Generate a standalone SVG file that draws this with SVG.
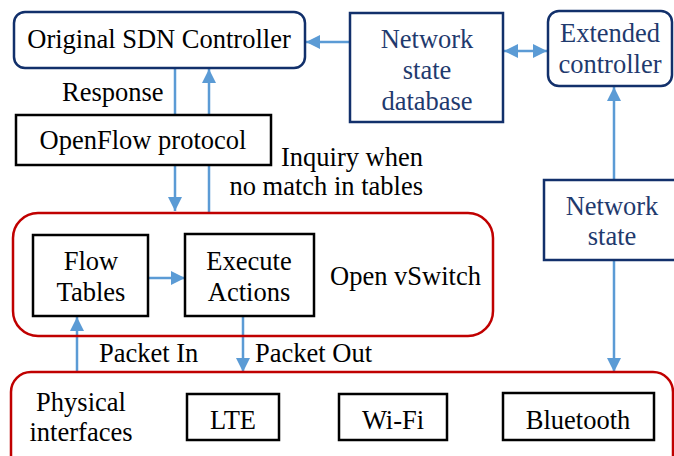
<svg xmlns="http://www.w3.org/2000/svg" width="674" height="456" viewBox="0 0 674 456">
<style>
text{font-family:'Liberation Serif','Times New Roman',serif;font-size:26.5px;fill:#000}
.nv{fill:#1f3a6e}
.c{text-anchor:middle}
.nbox{fill:#fff;stroke:#12306b;stroke-width:2.5}
.kbox{fill:#fff;stroke:#000;stroke-width:2.5}
.rbox{fill:none;stroke:#c00000;stroke-width:2.5}
.ln{stroke:#5b9bd5;stroke-width:2.5;fill:none}
</style>
<defs>
<marker id="a" viewBox="0 0 14 14" refX="14" refY="7" markerWidth="14" markerHeight="14" markerUnits="userSpaceOnUse" orient="auto-start-reverse"><path d="M0,0L14,7L0,14Z" fill="#5b9bd5"/></marker>
</defs>
<g id="connectors">
<line class="ln" x1="175" y1="68" x2="175" y2="211" marker-end="url(#a)"/>
<line class="ln" x1="209" y1="212" x2="209" y2="69" marker-end="url(#a)"/>
<line class="ln" x1="350" y1="42" x2="306" y2="42" marker-end="url(#a)"/>
<line class="ln" x1="504" y1="51" x2="547" y2="51" marker-start="url(#a)" marker-end="url(#a)"/>
<line class="ln" x1="614" y1="180" x2="614" y2="87" marker-end="url(#a)"/>
<line class="ln" x1="614" y1="260" x2="614" y2="372" marker-end="url(#a)"/>
<line class="ln" x1="148" y1="278" x2="185" y2="278" marker-end="url(#a)"/>
<line class="ln" x1="77" y1="372" x2="77" y2="317" marker-end="url(#a)"/>
<line class="ln" x1="243" y1="316" x2="243" y2="372" marker-end="url(#a)"/>
</g>
<g id="sdn-controller"><rect class="nbox" x="14" y="12" width="291" height="56" rx="11"/><text x="159" y="48" class="c">Original SDN Controller</text></g>
<g id="response-label"><text x="62" y="101">Response</text></g>
<g id="openflow"><rect class="kbox" x="16" y="115" width="255" height="50"/><text x="143" y="149" class="c">OpenFlow protocol</text></g>
<g id="inquiry-label"><text x="423" y="166" text-anchor="end">Inquiry when</text><text x="423" y="195" text-anchor="end">no match in tables</text></g>
<g id="network-state-db"><rect class="nbox" x="350" y="13" width="153" height="109"/><text x="427" y="48" class="c nv">Network</text><text x="427" y="79" class="c nv">state</text><text x="427" y="110" class="c nv">database</text></g>
<g id="extended-controller"><rect class="nbox" x="548" y="11" width="124" height="75" rx="11"/><text x="610" y="42" class="c nv">Extended</text><text x="610" y="73" class="c nv">controller</text></g>
<g id="network-state"><rect class="nbox" x="544" y="180" width="140" height="80"/><text x="612" y="215" class="c nv">Network</text><text x="612" y="245" class="c nv">state</text></g>
<g id="open-vswitch"><rect class="rbox" x="13" y="213" width="480" height="123" rx="25"/><text x="330" y="285">Open vSwitch</text></g>
<g id="flow-tables"><rect class="kbox" x="33" y="235" width="115" height="81"/><text x="91" y="270" class="c">Flow</text><text x="91" y="301" class="c">Tables</text></g>
<g id="execute-actions"><rect class="kbox" x="185" y="234" width="129" height="82"/><text x="249" y="270" class="c">Execute</text><text x="249" y="301" class="c">Actions</text></g>
<g id="packet-labels"><text x="99" y="362">Packet In</text><text x="255" y="362">Packet Out</text></g>
<g id="physical-interfaces"><rect class="rbox" x="11" y="372" width="662" height="110" rx="20"/><text x="81" y="411" class="c">Physical</text><text x="81" y="441" class="c">interfaces</text></g>
<g id="lte"><rect class="kbox" x="187" y="394" width="92" height="46"/><text x="233" y="429" class="c">LTE</text></g>
<g id="wifi"><rect class="kbox" x="339" y="394" width="108" height="46"/><text x="393" y="429" class="c">Wi-Fi</text></g>
<g id="bluetooth"><rect class="kbox" x="503" y="393" width="151" height="47"/><text x="578" y="429" class="c">Bluetooth</text></g>
</svg>
